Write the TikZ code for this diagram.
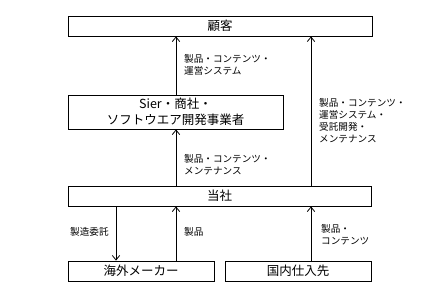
\documentclass[tikz,border=0pt]{standalone}
\usepackage{fontspec}
\setmainfont{Noto Sans CJK JP}
\usetikzlibrary{arrows.meta,positioning,calc}
\tikzset{
  >={Straight Barb[length=1.6mm,width=2.6mm]},
  party/.style={draw, line width=0.8pt, minimum height=20pt, inner sep=0pt, font=\fontsize{12.5}{16}\selectfont, align=center},
  flow/.style={->, line width=0.8pt},
  flowlabel/.style={anchor=north west, align=left, inner sep=0pt, font=\fontsize{9.6}{12}\selectfont},
}

\begin{document}
\begin{tikzpicture}[x=1pt, y=-1pt]
  \useasboundingbox (0,0) rectangle (427,301);

  \node[party, minimum width=304pt] (customer) at (220,26) {顧客};
  \node[party, minimum width=215pt, minimum height=34pt] (sier) at (175.5,112) {Sier・商社・\\ソフトウエア開発事業者};
  \node[party, minimum width=303pt] (company) at (219.5,196) {当社};
  \node[party, minimum width=146pt] (overseas) at (141,271) {海外メーカー};
  \node[party, minimum width=146pt] (domestic) at (298,271) {国内仕入先};

  \coordinate (colL) at (116,0);
  \coordinate (colM) at (176,0);
  \coordinate (colR) at (311,0);

  \draw[flow] (sier.north -| colM) -- (customer.south -| colM);
  \draw[flow] (company.north -| colM) -- (sier.south -| colM);
  \draw[flow] (company.north -| colR) -- (customer.south -| colR);
  \draw[flow] (company.south -| colL) -- (overseas.north -| colL);
  \draw[flow] (overseas.north -| colM) -- (company.south -| colM);
  \draw[flow] (domestic.north -| colR) -- (company.south -| colR);

  \node[flowlabel] (lblA) at (184,54) {製品・コンテンツ・\\運営システム};
  \node[flowlabel] (lblB) at (319,98) {製品・コンテンツ・\\運営システム・\\受託開発・\\メンテナンス};
  \node[flowlabel] (lblC) at (184,154) {製品・コンテンツ・\\メンテナンス};
  \node[flowlabel] (lblD) at (70,227) {製造委託};
  \node[flowlabel] (lblE) at (184,227) {製品};
  \node[flowlabel] (lblF) at (321,224) {製品・\\コンテンツ};
\end{tikzpicture}
\end{document}
